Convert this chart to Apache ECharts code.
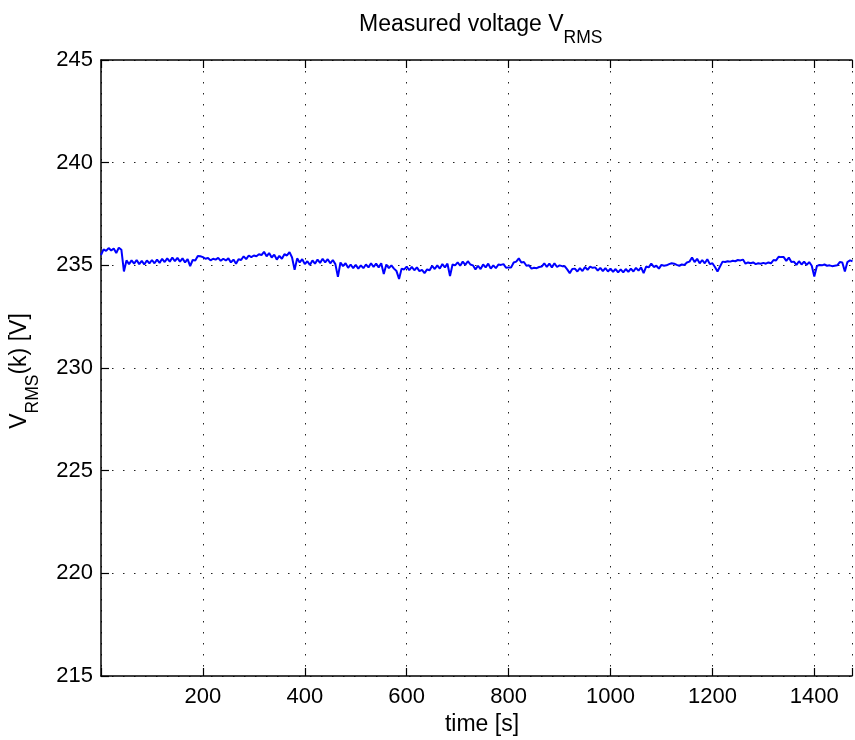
<!DOCTYPE html>
<html>
<head>
<meta charset="utf-8">
<script src="https://cdn.jsdelivr.net/npm/echarts@6/dist/echarts.min.js"></script>
<style>html,body{margin:0;padding:0;background:#fff}#c{width:855px;height:740px}</style>
</head>
<body>
<div id="c"></div>
<script>
// sampling: one reading every 5 s, starting at t = 0 s
const sampleStart = 0;
const sampleStep = 5;
const voltage = [
  235.50,235.78,235.70,235.84,235.72,235.82,235.60,235.86,235.76,234.70,235.24,235.06,235.24,235.08,235.26,235.06,235.22,235.04,235.24,235.10,
  235.26,235.10,235.28,235.12,235.32,235.16,235.34,235.18,235.38,235.20,235.36,235.18,235.34,235.14,235.30,234.96,235.26,235.24,235.46,235.44,
  235.40,235.32,235.36,235.24,235.32,235.28,235.36,235.22,235.32,235.24,235.34,235.14,235.28,235.08,235.30,235.26,235.44,235.30,235.48,235.40,
  235.48,235.44,235.54,235.50,235.66,235.44,235.60,235.38,235.52,235.28,235.46,235.32,235.54,235.48,235.64,235.38,234.78,235.34,235.14,235.30,
  235.06,235.20,235.02,235.24,235.08,235.28,235.12,235.32,235.14,235.30,235.10,235.26,235.06,234.44,235.14,234.96,235.10,234.88,235.04,234.86,
  235.02,234.84,235.00,234.86,235.04,234.90,235.10,234.92,235.08,234.90,235.10,234.58,235.04,234.86,235.00,234.84,234.72,234.34,234.84,234.80,
  234.94,234.76,234.92,234.76,234.90,234.72,234.78,234.62,234.80,234.76,234.98,234.82,235.00,234.84,235.06,234.90,235.08,234.48,235.04,235.00,
  235.14,234.98,235.18,235.02,235.20,235.04,235.00,234.80,234.98,234.82,235.04,234.90,235.08,234.84,235.00,234.86,235.04,235.02,235.06,234.88,
  234.90,234.90,235.14,235.18,235.34,235.14,235.16,234.98,235.00,234.84,234.88,234.86,234.92,234.94,235.10,234.92,235.08,234.90,235.10,234.92,
  235.00,234.96,234.96,234.80,234.62,234.82,234.84,234.70,234.86,234.72,234.92,234.78,234.94,234.88,234.90,234.74,234.88,234.72,234.86,234.70,
  234.84,234.68,234.82,234.66,234.80,234.66,234.82,234.68,234.84,234.70,234.88,234.74,234.90,234.62,234.94,234.90,235.08,234.92,234.98,234.84,
  235.02,234.98,235.00,235.06,235.10,235.08,235.02,234.98,235.04,235.02,235.14,235.18,235.38,235.16,235.32,235.10,235.26,235.10,235.30,235.06,
  235.10,234.92,234.70,234.94,235.18,235.16,235.20,235.18,235.22,235.20,235.26,235.24,235.28,235.08,235.14,235.10,235.14,235.06,235.10,235.08,
  235.12,235.08,235.14,235.10,235.26,235.24,235.42,235.40,235.40,235.22,235.38,235.16,235.18,235.02,235.20,235.04,235.18,235.02,235.16,234.98,
  234.46,234.96,235.02,235.00,235.04,234.98,235.00,234.96,234.98,235.00,235.16,235.14,234.70,235.16,235.24,235.20
];
const xTicks = [200, 400, 600, 800, 1000, 1200, 1400];
const yTicks = [215, 220, 225, 230, 235, 240, 245];
const titleMain = 'Measured voltage V';
const titleSub = 'RMS';
const yNameMain = 'V';
const yNameSub = 'RMS';
const yNameRest = '(k) [V]';
const xName = 'time [s]';

const FONT = '"Liberation Sans", Arial, Helvetica, sans-serif';
const series = voltage.map((v, i) => [sampleStart + i * sampleStep, v]);

const chart = echarts.init(document.getElementById('c'), null, {renderer: 'canvas'});
const axisLine = {show: true, lineStyle: {color: '#000', width: 1.5}};
const tick = {show: true, inside: true, length: 8, lineStyle: {color: '#000', width: 1.2}};
const split = {show: true, lineStyle: {color: '#222', width: 1, type: [1.5, 9.5]}};
const richSub = {
  m: {fontSize: 23, fontFamily: FONT, fill: '#000', lineHeight: 34, verticalAlign: 'top'},
  s: {fontSize: 17.5, fontFamily: FONT, fill: '#000', lineHeight: 18, verticalAlign: 'bottom'}
};

chart.setOption({
  animation: false,
  backgroundColor: '#fff',
  grid: {left: 101, right: 0, top: 60, bottom: 64, containLabel: false},
  xAxis: [{
    type: 'value', min: 0, max: 1474, interval: 200,
    axisLine: axisLine, axisTick: tick, splitLine: split,
    axisLabel: {color: '#000', fontSize: 22, fontFamily: FONT, margin: 10,
      formatter: v => (xTicks.indexOf(v) >= 0 ? String(v) : '')}
  }, {
    type: 'value', position: 'top', min: 0, max: 1474, interval: 200,
    axisLine: axisLine, axisTick: tick, splitLine: {show: false}, axisLabel: {show: false}
  }],
  yAxis: [{
    type: 'value', min: 215, max: 245, interval: 5,
    axisLine: axisLine, axisTick: tick, splitLine: split,
    axisLabel: {color: '#000', fontSize: 22, fontFamily: FONT, margin: 8,
      formatter: v => (yTicks.indexOf(v) >= 0 ? String(v) : '')}
  }],
  series: [{
    type: 'line', xAxisIndex: 0, yAxisIndex: 0, data: series,
    showSymbol: false, symbol: 'none',
    lineStyle: {color: '#0000ff', width: 2}
  }],
  graphic: [{
    type: 'text', x: 359, y: 13.5, silent: true,
    style: {
      text: '{m|' + titleMain + '}{s|' + titleSub + '}',
      align: 'left', verticalAlign: 'top',
      rich: richSub
    }
  }, {
    type: 'text', x: 8, y: 371, rotation: Math.PI / 2, silent: true,
    style: {
      text: '{m|' + yNameMain + '}{s|' + yNameSub + '}{m|' + yNameRest + '}',
      align: 'center', verticalAlign: 'top',
      rich: richSub
    }
  }, {
    type: 'text', x: 482, y: 725, silent: true,
    style: {text: xName, fontSize: 23, fontFamily: FONT, fill: '#000', align: 'center', verticalAlign: 'middle'}
  }]
});
</script>
</body>
</html>
